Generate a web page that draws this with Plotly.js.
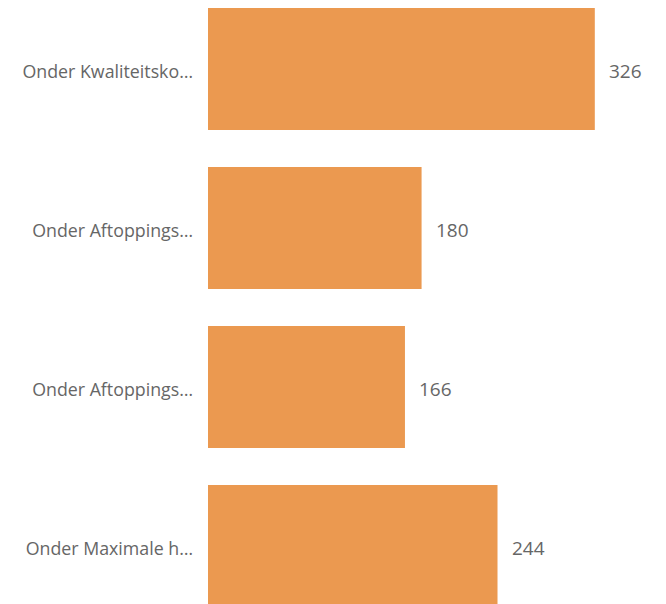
<!DOCTYPE html>
<html><head><meta charset="utf-8">
<script src="https://cdn.plot.ly/plotly-3.0.1.min.js"></script>
<style>html,body{margin:0;padding:0;background:#fff}#c{width:666px;height:604px}</style>
</head><body><div id="c"></div>
<script>
const categories = ["Onder Kwaliteitsko…", "Onder Aftoppings…", "Onder Aftoppings…", "Onder Maximale h…"];
const positions = [0, 1, 2, 3];
const values = [326, 180, 166, 244];

const trace = {
  type: 'bar', orientation: 'h',
  y: positions, x: values,
  marker: {color: '#EB9950'},
  width: 0.767,
  hoverinfo: 'none'
};
const annotations = values.map((v, i) => ({
  x: v, y: positions[i], xref: 'x', yref: 'y',
  text: String(v), showarrow: false, xanchor: 'left', xshift: 12, yshift: -2,
  font: {family: 'Open Sans, Noto Sans, sans-serif', size: 19, color: '#666666'}
}));
Plotly.newPlot('c', [trace], {
  width: 666, height: 604,
  margin: {l: 208, r: 0, t: 0, b: 0},
  paper_bgcolor: '#fff', plot_bgcolor: '#fff',
  showlegend: false,
  xaxis: {range: [0, 386], visible: false, fixedrange: true},
  yaxis: {range: [3.365, -0.434], showgrid: false, zeroline: false, showline: false,
          tickvals: positions, ticktext: categories,
          ticks: '', ticklabelstandoff: 14, ticklabelshift: -3,
          tickfont: {family: 'Open Sans, Noto Sans, sans-serif', size: 17.8, color: '#666666'}},
  annotations: annotations
}, {displayModeBar: false, staticPlot: true});
</script></body></html>
